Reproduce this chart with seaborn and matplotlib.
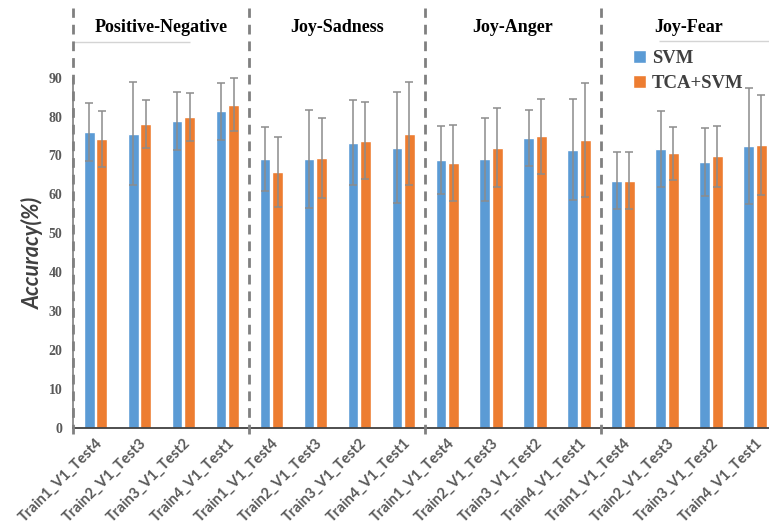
import pandas as pd
import seaborn as sns
import matplotlib.pyplot as plt
from matplotlib.patches import Patch

# Dados (acurácia média e desvio)
categorias = ['Train1_V1_Test4', 'Train2_V1_Test3', 'Train3_V1_Test2', 'Train4_V1_Test1'] * 4
grupos = ['Positive-Negative', 'Joy-Sadness', 'Joy-Anger', 'Joy-Fear']
metodos = ['SVM', 'TCA+SVM']

svm_media = [76.0, 75.6, 78.9, 81.3,
             69.1, 69.1, 73.3, 72.0,
             68.8, 69.0, 74.4, 71.5,
             63.5, 71.7, 68.3, 72.3]
svm_desvio = [7.5, 13.3, 7.5, 7.4,
              8.3, 12.6, 11.0, 14.2,
              8.8, 10.6, 7.2, 12.9,
              7.4, 9.8, 8.8, 14.9]
tca_media = [74.1, 78.1, 79.8, 83.0,
             65.7, 69.3, 73.8, 75.6,
             68.0, 72.0, 74.9, 73.9,
             63.5, 70.5, 69.8, 72.7]
tca_desvio = [7.2, 6.2, 6.2, 6.8,
              9.0, 10.3, 9.9, 13.3,
              9.7, 10.1, 9.6, 14.6,
              7.4, 6.7, 7.8, 12.8]

cores = {'SVM': '#5B9BD5', 'TCA+SVM': '#ED7D31'}

# tabela longa para o seaborn
idx = list(range(len(categorias)))
df = pd.DataFrame({
    'pos': idx * 2,
    'Metodo': ['SVM'] * len(idx) + ['TCA+SVM'] * len(idx),
    'Accuracy': svm_media + tca_media,
})

sns.set_style('white')
fig = plt.figure(figsize=(7.69, 5.31), dpi=100)
ax = fig.add_axes([0.0955, 0.1945, 0.9045, 0.7905])

sns.barplot(data=df, x='pos', y='Accuracy', hue='Metodo', palette=cores, saturation=1,
            width=0.57, gap=0.14, errorbar=None, legend=False, ax=ax)

# barras de erro nos centros das barras
for cont, desvio in zip(ax.containers, [svm_desvio, tca_desvio]):
    xs = [b.get_x() + b.get_width() / 2 for b in cont]
    ys = [b.get_height() for b in cont]
    ax.errorbar(xs, ys, yerr=desvio, fmt='none', ecolor='#8c8c8c',
                elinewidth=1.1, capsize=3, capthick=1.1, zorder=3)

ax.set_xlim(-0.5, 15.32)
ax.set_ylim(0, 107.9)

# separadores tracejados entre grupos
for g in range(4):
    ax.axvline(g * 4 - 0.5, ymin=-0.015, ymax=1, color='#808080', lw=2,
               dashes=(3.5, 2.5), clip_on=False, zorder=4)
    ax.text(g * 4 + 1.5, 102.8, grupos[g], ha='center', va='center',
            fontsize=13, fontweight='bold', family='Liberation Serif', color='black')

# linhas cinzas claras sob alguns títulos
ax.hlines(99.1, -0.5, 2.15, color='#d4d4d4', lw=1)
ax.hlines(99.4, 12.81, 15.32, color='#d4d4d4', lw=1)

ax.set_xticks(idx)
ax.set_xticklabels(categorias, rotation=45, ha='right', rotation_mode='anchor',
                   fontsize=10.5, fontweight='bold', family='Lato', color='#595959')
ax.tick_params(axis='x', length=0, pad=6)

ax.set_yticks(range(0, 100, 10))
ax.set_yticklabels([str(v) for v in range(0, 100, 10)], fontsize=10,
                   fontweight='bold', family='Liberation Serif', color='#595959')
ax.tick_params(axis='y', direction='in', length=4, color='#595959', pad=8)

ax.set_xlabel('')
ax.set_ylabel('Accuracy(%)', fontsize=15.5, style='italic', fontweight='bold',
              family='Lato', color='#404040')
ax.yaxis.set_label_coords(-0.043, 45 / 107.9)

for s in ['top', 'right']:
    ax.spines[s].set_visible(False)
ax.spines['left'].set_bounds(0, 90)
ax.spines['left'].set_color('#7f7f7f')
ax.spines['left'].set_linewidth(1.2)
ax.spines['bottom'].set_color('#404040')
ax.spines['bottom'].set_linewidth(1.3)

handles = [Patch(facecolor=cores[m], label=m) for m in metodos]
leg = ax.legend(handles=handles, loc='upper left', bbox_to_anchor=(0.78, 0.94),
                frameon=False, handlelength=0.7, handleheight=0.7, handletextpad=0.3,
                labelspacing=0.4, prop={'family': 'Liberation Serif', 'weight': 'bold', 'size': 13.5})
for t in leg.get_texts():
    t.set_color('#404040')

plt.savefig('out.png', dpi=100)
